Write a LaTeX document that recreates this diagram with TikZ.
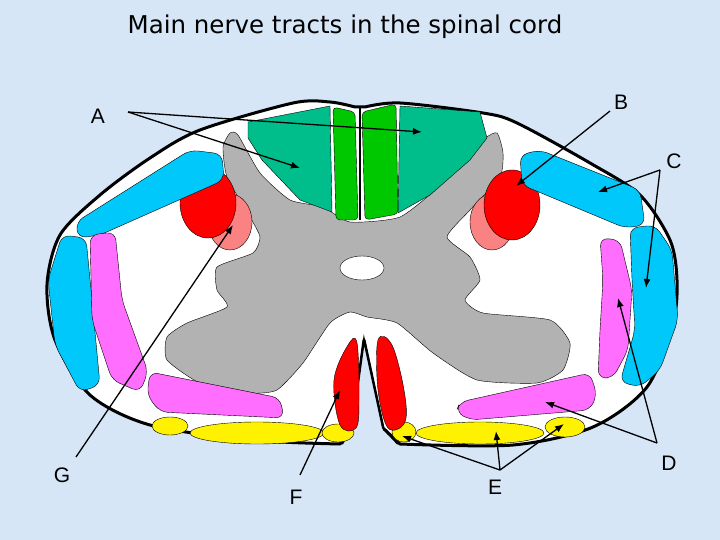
\documentclass[tikz,border=0pt]{standalone}
\usepackage{fontspec}
\setmainfont{Liberation Sans}
\newfontfamily\titlefont{DejaVu Sans}
\usetikzlibrary{arrows.meta}
\begin{document}
\begin{tikzpicture}[x=1pt,y=-1pt,
  tract/.style={draw=black,line width=0.4pt},
  arr/.style={draw=black,line width=1.3pt,-{Latex[length=9pt,width=7pt]}},
  lbl/.style={font=\fontsize{21}{23}\selectfont}]
\definecolor{bg}{RGB}{214,230,246}
\definecolor{teal}{RGB}{0,190,140}
\definecolor{grn}{RGB}{0,200,0}
\definecolor{cy}{RGB}{0,200,250}
\definecolor{mag}{RGB}{255,110,255}
\definecolor{pinkr}{RGB}{250,130,130}
\definecolor{gm}{RGB}{178,178,178}
\fill[bg] (0,0) rectangle (720,540);
\useasboundingbox (0,0) rectangle (720,540);
\node[font=\titlefont\fontsize{24.5}{28}\selectfont] (title) at (345,27) {Main nerve tracts in the spinal cord};
% cord outline
\path[fill=white,draw=black,line width=3pt,line join=round] plot[smooth,tension=0.5] coordinates{
 (355,107)(330,102)(293,103)(200,130)(150,158)(100,195)(60,235)(47,285)(55,340)(90,395)(150,425)(250,440)(340,444)}
 -- (352,428) -- (364,340) -- (383,428) -- plot[smooth,tension=0.5] coordinates{(400,444)(513,445)(593,427)(647,387)(673,323)(677,280)(670,240)(640,195)(590,163)(517,123)(483,113)(400,103)(365,107)} -- cycle;
\fill[bg] (352,428) -- (364,340) -- (383,428) -- (380,446) -- (350,446) -- cycle;
\draw[line width=2pt] (342,444) -- (352,428) -- (364,340) -- (383,428) -- (398,444);
% gray matter
\path[tract,fill=gm] plot[smooth cycle,tension=0.35] coordinates{
(230,133)(238,135)(260,173)(290,200)(323,207)(350,222)(400,217)(443,183)(483,140)(497,133)(503,153)(500,177)(470,210)(447,237)(470,257)(480,280)(465,300)(483,313)(550,320)(570,343)(563,370)(537,383)(477,380)(433,353)(397,323)(367,317)(350,312)(330,323)(303,363)(277,390)(250,393)(200,383)(167,360)(167,337)(187,323)(227,307)(217,290)(217,267)(253,253)(260,237)(250,217)(227,177)(223,147)};
\path[draw=black,fill=white] (362,268) ellipse[x radius=22,y radius=12];
% dorsal tracts
\path[tract,fill=teal] (248,122) -- (330,106) -- (332,212) -- (300,200) -- (262,160) -- (248,138) -- cycle;
\path[tract,fill=teal] (400,106) -- (480,112) -- (487,138) -- (470,160) -- (430,195) -- (398,213) -- cycle;
\path[tract,fill=grn,rounded corners=4pt] (333,107) -- (355,112) -- (358,220) -- (336,220) -- cycle;
\path[tract,fill=grn,rounded corners=4pt] (362,112) -- (396,104) -- (398,214) -- (365,220) -- cycle;
\draw[line width=2pt] (360,108) -- (360,220);
% lateral
\path[tract,fill=pinkr] (230,222) ellipse[x radius=22,y radius=28];
\path[tract,fill=red] (208,203) ellipse[x radius=28,y radius=35];
\path[tract,fill=pinkr] (492,222) ellipse[x radius=22,y radius=28];
\path[tract,fill=red] (512,205) ellipse[x radius=28,y radius=35];
% cyan
\path[tract,fill=cy,rounded corners=8pt] (76,222) -- (190,150) -- (222,154) -- (224,180) -- (100,235) -- (78,238) -- cycle;
\path[tract,fill=cy,rounded corners=8pt] (62,235) -- (86,238) -- (92,300) -- (100,385) -- (80,392) -- (55,345) -- (48,280) -- cycle;
\path[tract,fill=cy,rounded corners=8pt] (520,155) -- (540,150) -- (640,190) -- (645,225) -- (625,228) -- (522,185) -- cycle;
\path[tract,fill=cy,rounded corners=8pt] (630,228) -- (655,225) -- (672,250) -- (678,320) -- (660,370) -- (640,387) -- (620,382) -- (635,330) -- (632,280) -- cycle;
% magenta
\path[tract,fill=mag,rounded corners=8pt] (90,235) -- (115,232) -- (122,300) -- (148,372) -- (140,392) -- (112,380) -- (92,320) -- cycle;
\path[tract,fill=mag,rounded corners=8pt] (150,372) -- (280,398) -- (284,418) -- (160,412) -- (147,395) -- cycle;
\path[tract,fill=mag,rounded corners=8pt] (600,238) -- (620,240) -- (632,290) -- (628,350) -- (613,378) -- (598,378) -- (600,330) -- (603,280) -- cycle;
\path[tract,fill=mag,rounded corners=8pt] (460,402) -- (590,373) -- (597,395) -- (590,410) -- (470,420) -- (456,412) -- cycle;
% yellow
\path[tract,fill=yellow] (170,426) ellipse[x radius=18,y radius=9];
\path[tract,fill=yellow] (257,433) ellipse[x radius=67,y radius=11];
\path[tract,fill=yellow] (338,433) ellipse[x radius=16,y radius=9];
\path[tract,fill=yellow] (404,432) ellipse[x radius=12,y radius=10];
\path[tract,fill=yellow] (480,433) ellipse[x radius=64,y radius=11];
\path[tract,fill=yellow] (565,427) ellipse[x radius=20,y radius=10];
% ventral red
\path[tract,fill=red] plot[smooth cycle,tension=0.6] coordinates{(348,345)(357,343)(359,400)(356,428)(340,425)(334,380)};
\path[tract,fill=red] plot[smooth cycle,tension=0.6] coordinates{(378,340)(392,345)(404,390)(405,422)(388,428)(378,390)};
% labels
\node[lbl] (A) at (98,116) {A};
\node[lbl] (B) at (621,102) {B};
\node[lbl] (C) at (674,161) {C};
\node[lbl] (D) at (669,463) {D};
\node[lbl] (E) at (495,487) {E};
\node[lbl] (F) at (296,497) {F};
\node[lbl] (G) at (62,475) {G};
\coordinate (a0) at (128,112);
\coordinate (a1) at (300,168); \coordinate (a2) at (422,132);
\coordinate (b0) at (610,111); \coordinate (b1) at (516,186);
\coordinate (c0) at (660,170); \coordinate (c1) at (598,192); \coordinate (c2) at (646,288);
\coordinate (d1) at (618,298); \coordinate (d2) at (545,402); \coordinate (d3) at (657,443);
\coordinate (e0) at (500,470); \coordinate (e1) at (402,436); \coordinate (e2) at (496,431); \coordinate (e3) at (564,424);
\coordinate (f0) at (300,475); \coordinate (f1) at (340,390);
\coordinate (g0) at (76,457); \coordinate (g1) at (233,225);
\draw[arr] (a0) -- (a1);
\draw[arr] (a0) -- (a2);
\draw[arr] (b0) -- (b1);
\draw[arr] (c0) -- (c1);
\draw[arr] (c0) -- (c2);
\draw[arr] (d3) -- (d1);
\draw[arr] (d3) -- (d2);
\draw[arr] (e0) -- (e1);
\draw[arr] (e0) -- (e2);
\draw[arr] (e0) -- (e3);
\draw[arr] (f0) -- (f1);
\draw[arr] (g0) -- (g1);
\end{tikzpicture}
\end{document}
